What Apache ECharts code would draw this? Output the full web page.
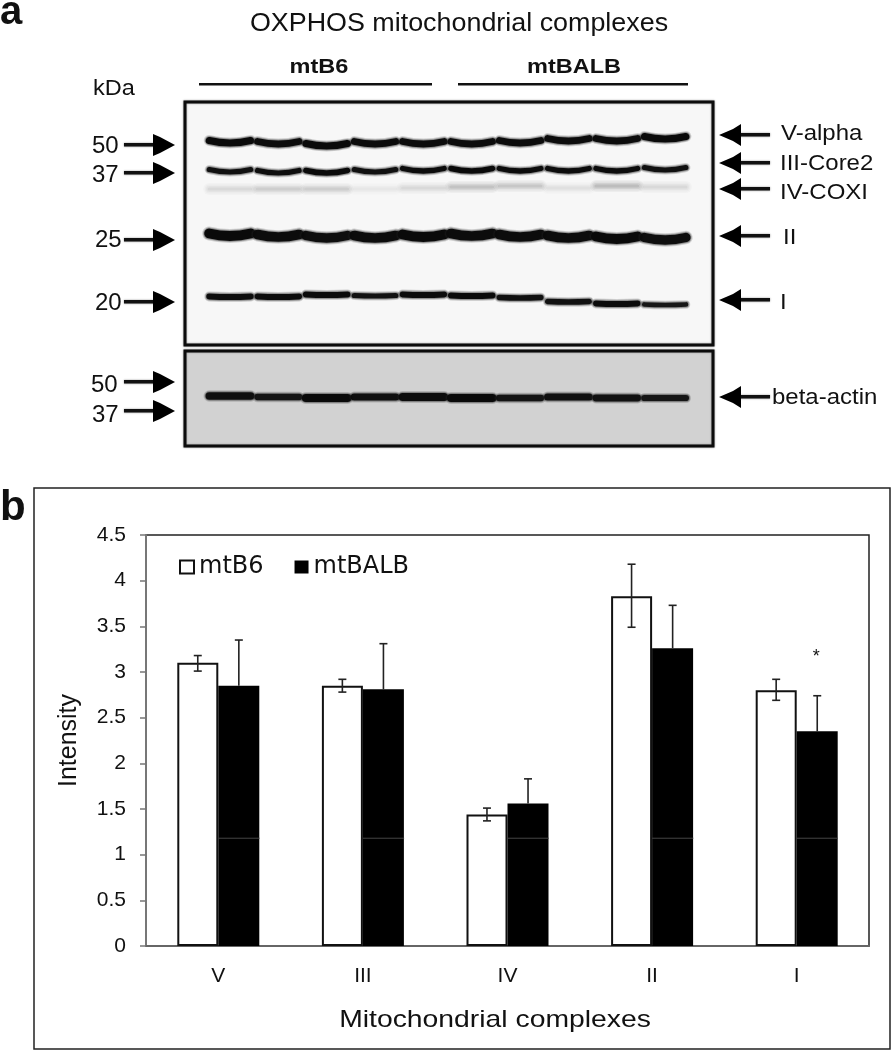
<!DOCTYPE html>
<html><head><meta charset="utf-8">
<style>html,body{margin:0;padding:0;background:#fff}#c{width:891px;height:1050px}</style>
<script src="https://cdn.jsdelivr.net/npm/echarts@6/dist/echarts.min.js"></script>
</head><body><div id="c"></div>
<script>
// ---- bar chart data (panel b)
const complexes = ['V','III','IV','II','I'];
const tickLabelsY = ['0','0.5','1','1.5','2','2.5','3','3.5','4','4.5'];
const mtB6 = [3.10,2.85,1.44,3.83,2.80];
const mtBALB = [2.85,2.81,1.56,3.26,2.35];
const mtB6High = [3.18,2.92,1.51,4.18,2.92];
const mtB6Low = [3.01,2.78,1.37,3.49,2.69];
const mtBALBHigh = [3.35,3.31,1.83,3.73,2.74];
const significance = [null,null,null,null,3.16];
const scanStreak = 1.18;
// ---- blot data (panel a): band migration per lane, relative darkness per lane
const lanes = [1,2,3,4,5,6,7,8,9,10];
const vAlphaPos = [143,144,146,144,144,144,143,141,141,139];
const vAlphaInk = [1,.95,1,.95,.95,.95,.95,.95,.95,1];
const core2Pos = [172,173,173,172,171,171,171,171,171,170];
const core2Ink = [.85,.9,1,.85,.95,1,.95,.95,.95,.85];
const coxiPos = [189,189,189,189,188,187,186,188,186,187];
const coxiInk = [.14,.2,.2,.07,.14,.26,.24,.1,.3,.14];
const complex2Pos = [236,237,238,238,237,236,237,238,239,240];
const complex2Ink = [1,.95,.9,.95,1,.95,.95,.95,1,.9];
const complex1Pos = [297,297,295,296,295,296,298,302,304,305];
const complex1Ink = [.95,.95,1,.75,.95,1,.85,.8,.95,.62];
const actinPos = [396,397,398,397,397,398,398,397,398,398];
const actinInk = [.85,.62,1,.8,.95,1,.65,.8,.75,.6];
const bandSets = [
  {name:'V-alpha',pos:vAlphaPos,ink:vAlphaInk,thick:7,sag:2.5},
  {name:'III-Core2',pos:core2Pos,ink:core2Ink,thick:5.5,sag:2.5},
  {name:'IV-COXI',pos:coxiPos,ink:coxiInk,thick:6,sag:0},
  {name:'II',pos:complex2Pos,ink:complex2Ink,thick:10,sag:2.5},
  {name:'I',pos:complex1Pos,ink:complex1Ink,thick:6,sag:0.5},
  {name:'beta-actin',pos:actinPos,ink:actinInk,thick:8,sag:0}
];

const F = '"Liberation Sans", Arial, sans-serif';
const errStroke = {stroke:'#222',lineWidth:1.6,fill:null};

function errorRender(sign, lowArr, highArr){
  return function(params, api){
    const i = api.value(0);
    const band = api.size([1,0])[0];
    const x = api.coord([i,0])[0] + sign*band*0.142;
    const top = api.coord([i,highArr[i]])[1];
    const bot = api.coord([i,lowArr ? lowArr[i] : (sign>0?mtBALB[i]:mtB6[i])])[1];
    const cap = 4;
    const kids = [
      {type:'line',shape:{x1:x,y1:top,x2:x,y2:bot},style:errStroke},
      {type:'line',shape:{x1:x-cap,y1:top,x2:x+cap,y2:top},style:errStroke}
    ];
    if(lowArr) kids.push({type:'line',shape:{x1:x-cap,y1:bot,x2:x+cap,y2:bot},style:errStroke});
    return {type:'group',children:kids};
  };
}
function bandRender(set){
  return function(params, api){
    const lane = api.value(0), m = api.value(1), ink = api.value(2);
    const c = api.coord([lane,m]);
    const hw = api.size([0.43,0])[0];
    const faint = ink < .5;
    const stroke = (w,op,col) => ({type:'bezierCurve',
      shape:{x1:c[0]-hw,y1:c[1]-set.sag,x2:c[0]+hw,y2:c[1]-set.sag,cpx1:c[0],cpy1:c[1]+set.sag},
      style:{fill:null,stroke:col,lineWidth:w,opacity:op,lineCap:'round'}});
    if(faint){
      const a = ink*0.7;
      return {type:'group',children:[stroke(12,a*.35,'#777'),stroke(9,a*.5,'#777'),stroke(6,a*.7,'#777'),stroke(3,a,'#777')]};
    }
    const w = set.thick*(.45+.55*ink);
    return {type:'group',children:[
      stroke(w+4,.18,'#222'),
      stroke(w+2,.35,'#222'),
      stroke(w,.75+.25*ink,'#0a0a0a')
    ]};
  };
}

const bandSeries = bandSets.map(set => ({
  type:'custom',name:set.name,xAxisIndex:1,yAxisIndex:1,silent:true,z:3,
  data:lanes.map((l,i)=>[l,set.pos[i],set.ink[i]]),
  encode:{x:0,y:1},renderItem:bandRender(set)
}));

function txt(text,x,y,size,opts){
  opts=opts||{};
  return {type:'text',x:x,y:y,z:20,scaleX:opts.sx||1,originX:0,originY:0,style:{text:text,fill:'#111',font:(opts.bold?'bold ':'')+size+'px '+F,textAlign:opts.align||'left',textVerticalAlign:'middle'}};
}
function arrowRight(y){ return [
  {type:'rect',z:20,shape:{x:124,y:y-2,width:32,height:3.5},style:{fill:'#111',shadowBlur:2,shadowColor:'#888'}},
  {type:'polygon',z:20,shape:{points:[[153,y-11],[160,y-8],[175,y],[160,y+8],[153,y+11]]},style:{fill:'#000'}}];}
function arrowLeft(y){ return [
  {type:'rect',z:20,shape:{x:738,y:y-2,width:32,height:3.5},style:{fill:'#111',shadowBlur:2,shadowColor:'#888'}},
  {type:'polygon',z:20,shape:{points:[[719,y],[733,y-6],[741,y-11],[741,y+11],[733,y+6]]},style:{fill:'#000'}}];}

const graphics = [
  {type:'rect',z:-2,shape:{x:185,y:102,width:528,height:243},style:{fill:'#f7f7f7',stroke:'#0c0c0c',lineWidth:3,shadowBlur:2,shadowColor:'#888'}},
  {type:'rect',z:-2,shape:{x:185,y:351,width:528,height:95},style:{fill:'#d2d2d2',stroke:'#0c0c0c',lineWidth:3,shadowBlur:2,shadowColor:'#888'}},
  {type:'rect',z:-3,shape:{x:34,y:488,width:856,height:561},style:{fill:'#fff',stroke:'#222',lineWidth:1.5}},
  {type:'rect',z:20,shape:{x:199,y:83,width:233,height:2.5},style:{fill:'#111'}},
  {type:'rect',z:20,shape:{x:458,y:83,width:230,height:2.5},style:{fill:'#111'}},
  txt('a',0,13,40,{bold:true}),
  txt('b',0,508,42,{bold:true}),
  txt('OXPHOS mitochondrial complexes',459,24,25,{align:'center',sx:1.075}),
  txt('mtB6',319,67,21,{bold:true,align:'center',sx:1.12}),
  txt('mtBALB',574,67,21,{bold:true,align:'center',sx:1.12}),
  txt('kDa',93,89,22,{sx:1.07}),
  txt('50',92,146,24),txt('37',92,175,24),txt('25',95,240,24),txt('20',95,303,24),txt('50',91,385,24),txt('37',92,415,24),
  txt('V-alpha',781,134,22,{sx:1.09}),txt('III-Core2',780,164,22,{sx:1.09}),txt('IV-COXI',780,193,22,{sx:1.09}),txt('II',783,238,22,{sx:1.09}),txt('I',780,303,22,{sx:1.09}),txt('beta-actin',772,398,22,{sx:1.09}),
  txt('Mitochondrial complexes',495,1020,24,{align:'center',sx:1.18})
];
[145,173,240,302,382,411].forEach(y=>graphics.push(...arrowRight(y)));
[135,163,189,236,300,397].forEach(y=>graphics.push(...arrowLeft(y)));

const chart = echarts.init(document.getElementById('c'),null,{renderer:'canvas'});
chart.setOption({
  animation:false,
  backgroundColor:'#fff',
  graphic:graphics,
  legend:{show:true,left:179,top:555,padding:0,itemWidth:14,itemHeight:13,itemGap:31,icon:'rect',selectedMode:false,
    data:['mtB6','mtBALB'],
    textStyle:{fontFamily:'"DejaVu Sans"',fontSize:24,color:'#111'}},
  grid:[
    {left:146,right:22,top:535,bottom:104,show:true,borderColor:'#222',borderWidth:1.5,backgroundColor:'transparent'},
    {left:185,right:178,top:102,bottom:604,show:false}
  ],
  xAxis:[
    {type:'category',gridIndex:0,data:complexes,axisTick:{show:false},
     axisLine:{lineStyle:{color:'#666',width:2}},
     axisLabel:{color:'#111',fontFamily:F,fontSize:21,margin:20}},
    {type:'value',gridIndex:1,min:0.07,max:10.99,show:false}
  ],
  yAxis:[
    {type:'value',gridIndex:0,min:0,max:4.5,interval:0.5,splitLine:{show:false},
     axisLine:{show:true,lineStyle:{color:'#777',width:2}},
     axisTick:{show:true,length:6,lineStyle:{color:'#777',width:1.5}},
     axisLabel:{color:'#111',fontFamily:F,fontSize:21,margin:20,formatter:v=>tickLabelsY[Math.round(v*2)]},
     name:'Intensity',nameLocation:'middle',nameGap:64,
     nameTextStyle:{color:'#111',fontFamily:F,fontSize:25}},
    {type:'value',gridIndex:1,min:102,max:446,inverse:true,show:false}
  ],
  series:[
    {type:'bar',name:'mtB6',data:mtB6,barWidth:41,barGap:'0%',itemStyle:{color:'#fff',borderColor:'#111',borderWidth:2}},
    {type:'bar',name:'mtBALB',data:mtBALB,barWidth:41,barGap:'0%',itemStyle:{color:'#000',borderColor:'#000',borderWidth:0}},
    {type:'custom',name:'errB6',z:5,silent:true,data:mtB6High.map((v,i)=>[i,v]),encode:{x:0,y:1},renderItem:errorRender(-1,mtB6Low,mtB6High)},
    {type:'custom',name:'errBALB',z:5,silent:true,data:mtBALBHigh.map((v,i)=>[i,v]),encode:{x:0,y:1},renderItem:errorRender(1,null,mtBALBHigh)},
    {type:'custom',name:'streak',z:4,silent:true,data:mtBALB.map((v,i)=>[i,scanStreak]),encode:{x:0,y:1},renderItem:function(p,api){
      const i=api.value(0),b=api.size([1,0])[0],c=api.coord([i,scanStreak]);
      return {type:'line',shape:{x1:c[0],y1:c[1],x2:c[0]+b*0.285,y2:c[1]},style:{stroke:'#444',lineWidth:1}};
    }},
    {type:'custom',name:'sig',z:6,silent:true,data:significance.map((v,i)=>[i,v]).filter(d=>d[1]!=null),encode:{x:0,y:1},renderItem:function(p,api){
      const i=api.value(0),b=api.size([1,0])[0],c=api.coord([i,api.value(1)]);
      return {type:'text',style:{x:c[0]+b*0.135,y:c[1],text:'*',fill:'#111',font:'18px '+F,textAlign:'center',textVerticalAlign:'middle'}};
    }}
  ].concat(bandSeries)
});
</script></body></html>
